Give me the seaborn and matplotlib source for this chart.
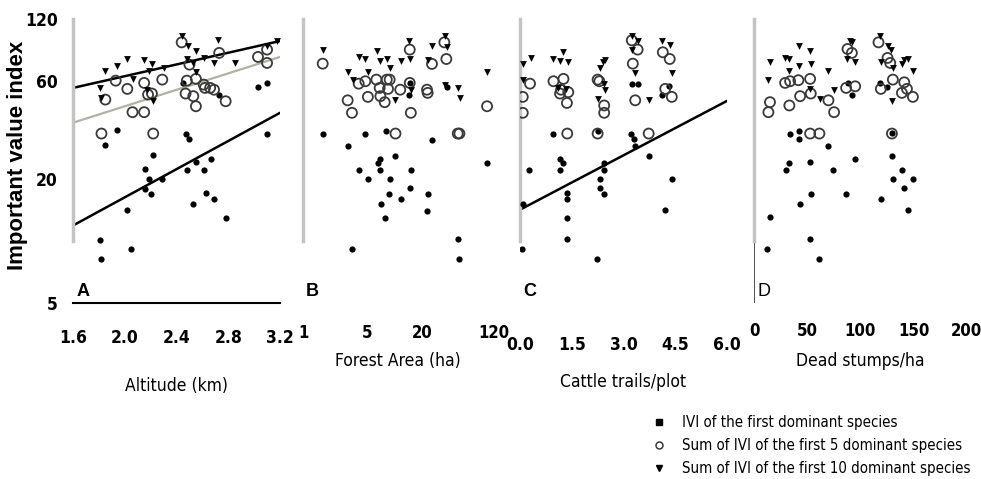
import numpy as np
import pandas as pd
import matplotlib
matplotlib.use("Agg")
import matplotlib.pyplot as plt
import seaborn as sns
from matplotlib.lines import Line2D

# ---------------- data ----------------
# Panel A : Altitude (km)
a_dom_x = [1.85, 1.94, 1.81, 1.82, 2.05, 2.02, 2.16, 2.19, 2.22, 2.16, 2.20, 2.29, 2.45, 2.47,
           2.50, 2.48, 2.53, 2.55, 2.61, 2.63, 2.67, 2.69, 2.73, 2.78, 3.03, 3.10, 3.10]
a_dom_y = [29.2, 34.5, 10.1, 8.15, 9.2, 14.1, 22.3, 20.1, 26.2, 17.9, 17.0, 20.1, 58.7, 33.3,
           31.2, 22.1, 15.2, 24.2, 22.1, 17.2, 25.1, 16.0, 51.5, 13.0, 56.1, 58.7, 33.3]
a_top5_x = [1.85, 1.93, 2.02, 2.06, 2.15, 2.15, 2.18, 2.21, 2.22, 2.29, 1.82, 2.44, 2.48, 2.47,
            2.53, 2.50, 2.55, 2.55, 2.61, 2.62, 2.66, 2.69, 2.73, 2.78, 3.03, 3.10, 3.10]
a_top5_y = [48.7, 60.2, 54.9, 42.3, 42.3, 58.7, 51.5, 52.1, 33.3, 60.9, 33.3, 92.4, 60.2, 52.1,
            50.6, 72.0, 61.4, 45.2, 57.6, 55.5, 55.5, 54.4, 82.1, 47.8, 78.5, 73.4, 85.2]
a_top10_x = [1.85, 1.94, 2.02, 2.15, 2.21, 2.19, 2.30, 2.06, 1.81, 1.82, 2.22, 2.44, 2.49, 2.55,
             2.48, 2.53, 2.61, 2.69, 2.72, 2.85, 2.55, 3.10, 3.18, 2.17]
a_top10_y = [66.9, 71.2, 76.7, 76.2, 72.8, 66.9, 69.4, 61.6, 55.5, 49.6, 47.8, 98.9, 88.4, 83.6,
             76.7, 73.4, 77.6, 73.4, 95.3, 73.4, 66.1, 88.4, 93.5, 54.4]
line_a_x = [1.6, 3.2]
line_a_top10 = [55.5, 93.8]
line_a_top5 = [37.6, 78.5]
line_a_dom = [11.9, 42.0]

# Panel B : Forest Area (ha)
b_dom_x = [1.64, 3.07, 3.42, 4.05, 4.79, 5.1, 6.52, 6.86, 6.98, 8.11, 8.6, 8.82, 7.1, 7.78,
           10.2, 11.7, 14.2, 14.6, 15.2, 14.6, 22.9, 22.5, 25.5, 37.2, 48.7, 50.8, 101.7]
b_dom_y = [33.2, 29.1, 9.2, 22.1, 33.2, 20.1, 24.0, 25.1, 22.1, 34.2, 17.0, 20.1, 15.1, 13.0,
           26.0, 16.0, 51.5, 58.7, 22.1, 18.1, 17.0, 14.0, 30.9, 56.1, 10.2, 8.2, 24.0]
b_top5_x = [1.64, 3.07, 3.42, 4.05, 4.79, 5.1, 6.31, 6.86, 6.98, 7.78, 8.2, 8.82, 8.46, 11.5,
            14.6, 14.6, 15.0, 22.5, 22.9, 25.5, 34.8, 36.6, 10.2, 48.7, 50.8, 101.7]
b_top5_y = [72.8, 48.3, 42.0, 58.2, 59.8, 50.2, 60.9, 55.5, 50.6, 47.3, 60.9, 60.9, 54.9, 54.4,
            85.2, 58.7, 42.0, 54.4, 52.5, 72.6, 92.4, 76.7, 33.3, 33.3, 33.3, 45.2]
b_top10_x = [1.64, 3.07, 3.48, 4.05, 4.79, 5.1, 6.4, 6.98, 8.2, 8.97, 11.7, 14.2, 14.8, 22.9,
             25.5, 35.7, 37.2, 48.7, 51.0, 101.7, 10.2, 15.0, 35.7]
b_top10_y = [84.6, 66.1, 60.9, 78.5, 76.7, 66.1, 83.6, 74.7, 76.7, 69.4, 74.7, 93.5, 76.7, 76.2,
             88.4, 99.6, 87.8, 55.5, 49.6, 66.1, 48.3, 54.1, 57.6]

# Panel C : Cattle trails/plot
c_dom_x = [0.08, 0.27, 0.05, 0.95, 1.16, 1.24, 1.16, 1.36, 1.36, 1.36, 1.36, 2.25, 2.32, 2.32,
           2.44, 2.44, 2.44, 2.23, 3.21, 3.29, 3.32, 3.24, 3.41, 3.73, 4.11, 4.31, 4.40, 4.21]
c_dom_y = [15.2, 22.1, 9.2, 33.2, 25.1, 24.0, 22.1, 17.2, 16.0, 13.0, 10.2, 34.2, 20.1, 18.1,
           17.0, 24.0, 22.1, 8.2, 33.2, 31.2, 29.1, 58.2, 58.2, 26.0, 51.5, 57.0, 20.1, 14.1]
c_top5_x = [0.29, 0.08, 0.08, 0.97, 1.26, 1.16, 1.19, 1.36, 1.40, 1.37, 2.25, 2.30, 2.44, 2.44,
            2.25, 3.24, 3.41, 3.27, 3.34, 3.73, 4.14, 4.34, 4.21, 4.40]
c_top5_y = [58.2, 50.2, 42.0, 59.8, 61.4, 52.1, 54.4, 46.9, 52.9, 33.3, 60.9, 59.8, 45.6, 42.0,
            33.3, 94.5, 85.2, 72.8, 48.3, 33.3, 82.7, 76.7, 54.9, 50.2]
c_top10_x = [0.08, 0.31, 0.08, 0.97, 1.16, 1.26, 1.40, 1.11, 1.34, 2.25, 2.32, 2.40, 2.47, 2.44,
             2.47, 3.24, 3.42, 3.24, 3.34, 3.73, 4.11, 4.34, 4.40]
c_top10_y = [72.8, 77.6, 60.9, 76.7, 74.7, 82.7, 73.9, 55.5, 54.9, 49.1, 69.4, 73.9, 76.2, 58.2,
             54.1, 99.6, 93.5, 85.2, 65.6, 48.7, 93.5, 90.1, 65.6]
line_c_x = [0.0, 6.0]
line_c_dom = [14.2, 48.0]

# Panel D : Dead stumps/ha
d_dom_x = [15.0, 12.5, 33.9, 42.6, 42.6, 33.2, 30.1, 52.7, 43.3, 53.3, 52.7, 61.4, 69.9, 74.6,
           86.5, 95.0, 87.8, 91.9, 117.9, 124.8, 119.1, 129.5, 129.5, 130.4, 138.9, 141.1, 149.2, 144.2]
d_dom_y = [13.1, 9.2, 33.2, 34.2, 31.2, 24.0, 22.1, 24.2, 15.1, 17.0, 10.2, 8.2, 28.9, 22.1,
           17.0, 25.1, 58.7, 51.5, 58.7, 56.1, 16.0, 33.6, 26.0, 20.1, 22.1, 18.1, 20.1, 14.1]
d_top5_x = [15.0, 13.5, 29.2, 33.9, 41.7, 43.3, 33.2, 52.7, 53.3, 69.9, 75.2, 52.7, 61.4, 86.5,
            87.8, 91.9, 95.0, 116.9, 119.1, 125.4, 127.9, 130.4, 141.1, 143.6, 138.9, 149.2, 129.5]
d_top5_y = [47.3, 42.3, 58.7, 59.8, 60.5, 50.6, 45.6, 61.4, 52.1, 48.3, 42.3, 33.3, 33.3, 55.5,
            85.8, 82.1, 56.5, 92.4, 54.9, 77.6, 73.4, 60.9, 59.1, 54.9, 52.5, 50.2, 33.3]
d_top10_x = [15.0, 13.5, 29.2, 33.2, 33.2, 42.6, 42.6, 52.7, 53.3, 52.7, 62.1, 69.9, 75.2, 87.2,
             89.7, 91.9, 95.0, 117.9, 119.1, 125.4, 128.5, 130.4, 129.5, 138.9, 141.1, 144.5, 149.2]
d_top10_y = [73.9, 60.9, 77.6, 76.7, 66.9, 88.4, 70.7, 83.6, 72.8, 54.9, 49.1, 66.9, 54.1, 76.7,
             93.5, 92.4, 73.9, 98.9, 73.9, 88.4, 84.6, 69.4, 47.8, 72.8, 76.2, 76.7, 66.9]

# axes text
y_ticks = [5, 20, 60, 120]
y_tick_labels = ["5", "20", "60", "120"]
a_ticks, a_tick_labels = [1.6, 2.0, 2.4, 2.8, 3.2], ["1.6", "2.0", "2.4", "2.8", "3.2"]
b_ticks, b_tick_labels = [1, 5, 20, 120], ["1", "5", "20", "120"]
c_ticks, c_tick_labels = [0.0, 1.5, 3.0, 4.5, 6.0], ["0.0", "1.5", "3.0", "4.5", "6.0"]
d_ticks, d_tick_labels = [0, 50, 100, 150, 200], ["0", "50", "100", "150", "200"]
x_titles = ["Altitude (km)", "Forest Area (ha)", "Cattle trails/plot", "Dead stumps/ha"]
panel_letters = ["A", "B", "C", "D"]
legend_labels = ["IVI of the first dominant species",
                 "Sum of IVI of the first 5 dominant species",
                 "Sum of IVI of the first 10 dominant species"]

# ---------------- style ----------------
sns.set_style("white")
COND = ["DejaVu Sans"]
REG = ["Liberation Sans", "DejaVu Sans"]
plt.rcParams["font.family"] = COND
plt.rcParams["font.stretch"] = "condensed"
plt.rcParams["text.color"] = "black"
plt.rcParams["axes.labelcolor"] = "black"
plt.rcParams["xtick.labelcolor"] = "black"
plt.rcParams["ytick.labelcolor"] = "black"

fig = plt.figure(figsize=(9.81, 4.79), dpi=100)
W, H = 981.0, 479.0
top_px, bot_px = 19, 303
rects = [(73, 207), (303, 207), (520, 207), (754, 213)]
axes = [fig.add_axes([l / W, 1 - bot_px / H, w / W, (bot_px - top_px) / H]) for l, w in rects]

panels = [
    (a_dom_x, a_dom_y, a_top5_x, a_top5_y, a_top10_x, a_top10_y),
    (b_dom_x, b_dom_y, b_top5_x, b_top5_y, b_top10_x, b_top10_y),
    (c_dom_x, c_dom_y, c_top5_x, c_top5_y, c_top10_x, c_top10_y),
    (d_dom_x, d_dom_y, d_top5_x, d_top5_y, d_top10_x, d_top10_y),
]
xlims = [(1.6, 3.2), (1, 181), (0, 6.0), (0, 200)]
tick_sets = [(a_ticks, a_tick_labels), (b_ticks, b_tick_labels),
             (c_ticks, c_tick_labels), (d_ticks, d_tick_labels)]

for i, (ax, (xd, yd, x5, y5, x10, y10)) in enumerate(zip(axes, panels)):
    if i == 1:
        ax.set_xscale("log")
    ax.set_yscale("log")
    sns.scatterplot(x=xd, y=yd, ax=ax, marker="o", color="black", s=20, linewidth=0, zorder=3)
    sns.scatterplot(x=x5, y=y5, ax=ax, marker="o", facecolors="none", edgecolor="#3a3a3a",
                    linewidth=1.3, s=52, zorder=3)
    sns.scatterplot(x=x10, y=y10, ax=ax, marker="v", color="black", s=24, linewidth=0, zorder=4)

    ax.set_xlim(*xlims[i])
    ax.set_ylim(5, 120)
    ax.set_xticks(tick_sets[i][0], tick_sets[i][1])
    ax.set_yticks(y_ticks, y_tick_labels)
    ax.minorticks_off()
    ax.set_facecolor("none")

    for s in ("top", "right"):
        ax.spines[s].set_visible(False)
    ax.spines["left"].set_color("#c4c4c4")
    ax.spines["left"].set_linewidth(2.5)
    ax.spines["left"].set_bounds(10, 120)
    if i == 0:
        ax.spines["bottom"].set_color("black")
        ax.spines["bottom"].set_linewidth(1.5)
    else:
        ax.spines["bottom"].set_visible(False)

# regression lines
sns.lineplot(x=line_a_x, y=line_a_top10, ax=axes[0], color="black", lw=1.8, zorder=2)
sns.lineplot(x=line_a_x, y=line_a_top5, ax=axes[0], color="#b2b2a4", lw=1.6, zorder=2)
sns.lineplot(x=line_a_x, y=line_a_dom, ax=axes[0], color="black", lw=1.8, zorder=2)
sns.lineplot(x=line_c_x, y=line_c_dom, ax=axes[2], color="black", lw=1.8, zorder=2)

# tick styling
axA, axB, axC, axD = axes
axA.tick_params(axis="y", direction="out", length=4, width=2, color="#222", labelsize=12.5, pad=7)
axA.tick_params(axis="x", direction="out", length=10, width=2.5, color="black", labelsize=12.5, pad=9)
for ax in (axB, axC, axD):
    ax.tick_params(axis="y", direction="inout", length=5, width=2, color="#222", labelleft=False)
axB.tick_params(axis="x", direction="inout", length=4, width=2, color="#222", labelsize=12, pad=13)
axC.tick_params(axis="x", direction="out", length=10, width=1.5, color="#222", labelsize=12.5, pad=14)
axD.tick_params(axis="x", direction="inout", length=4, width=2, color="#222", labelsize=12, pad=12)
for ax in axes:
    for lab in ax.get_xticklabels() + ax.get_yticklabels():
        lab.set_fontweight("bold")
        lab.set_color("black")

# dark stub of the axis in panel D
axD.axvline(0, 0, np.log(10 / 5) / np.log(120 / 5), color="#333", lw=1.2)

# axis titles
axA.set_ylabel("Important value index", fontsize=16, fontweight="bold", family=REG,
               stretch="normal", color="black")
axA.yaxis.set_label_coords(-0.215, 0.52)
label_y = [-0.262, -0.172, -0.247, -0.172]
label_x = [0.5, 0.46, 0.5, 0.5]
for ax, t, lx, ly in zip(axes, x_titles, label_x, label_y):
    ax.set_xlabel(t, fontsize=12.5, color="black")
    ax.xaxis.set_label_coords(lx, ly)

for ax, letter in zip(axes, panel_letters):
    ax.text(0.015, 0.042, letter, transform=ax.transAxes, fontsize=13, color="black",
            fontweight="bold" if letter != "D" else "normal", family=REG,
            ha="left", va="center")

# legend
handles = [
    Line2D([], [], ls="none", marker="s", ms=4, color="black"),
    Line2D([], [], ls="none", marker="o", ms=5, mfc="none", mec="#3a3a3a", mew=1.1),
    Line2D([], [], ls="none", marker="v", ms=5, color="black"),
]
fig.legend(handles, legend_labels, loc="upper left", bbox_to_anchor=(651 / W, 1 - 415 / H),
           frameon=False, fontsize=10.8, handlelength=1.1, handletextpad=1.0,
           labelspacing=0.55, borderpad=0, borderaxespad=0, labelcolor="black")

fig.savefig("out.png", dpi=100)
